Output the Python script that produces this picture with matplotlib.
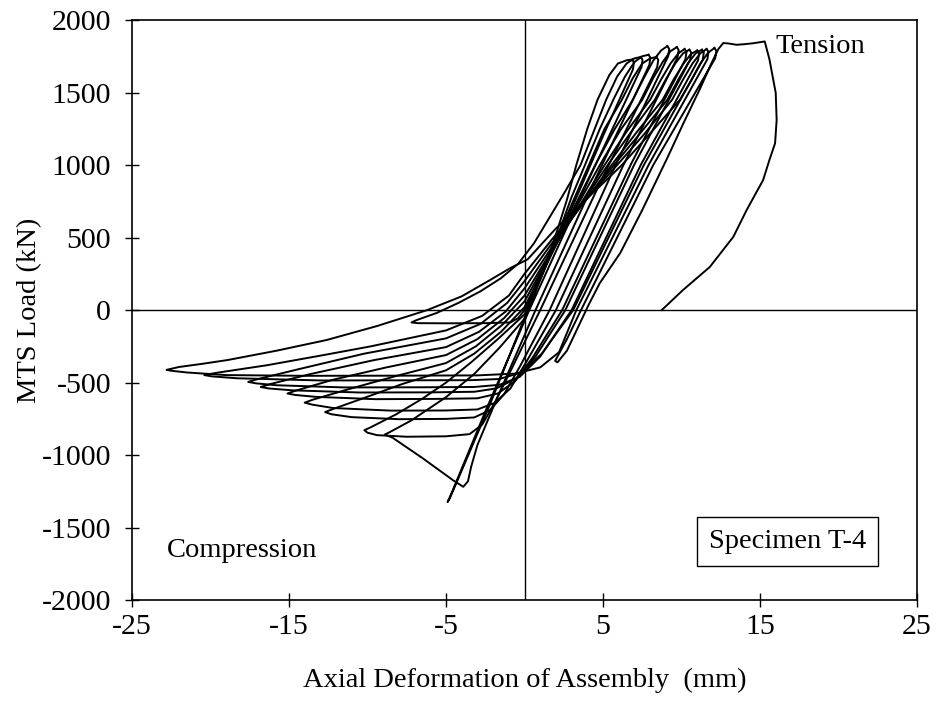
import matplotlib
matplotlib.use("Agg")
import matplotlib.pyplot as plt

# axial deformation (mm) / MTS load (kN), one list pair per loading cycle
c00_def = [0.0, 0.6, 1.3, 2.0, 2.7, 3.3, 4.0, 4.65, 5.4, 5.95, 6.5, 6.85]
c00_load = [0, 120, 300, 520, 760, 1000, 1250, 1450, 1620, 1700, 1722, 1727]

c01_def = [6.85, 6.97, 6.9, 5.0, 3.0, 1.0, 0.0, -0.4, -0.9, -2.5, -5.0, -6.8, -7.2,
           -6.9, -5.6, -4.2, -2.8, -1.5, -0.4, 0.6, 1.6, 2.6, 3.57, 4.4, 5.2, 5.9, 6.5, 7.0, 7.4]
c01_load = [1727, 1707, 1657, 1200, 700, 220, 0, -55, -85, -90, -91, -90, -85,
            -70, -20, 50, 130, 220, 320, 460, 640, 820, 1000, 1230, 1450, 1610, 1700, 1735, 1745]

c02_def = [7.4, 7.52, 7.45, 4.0, 0.3, -2.5, -4.6, -4.9, -4.75, -2.2, 0.2, 1.2, 2.2, 3.0,
           3.85, 4.8, 5.7, 6.4, 7.0, 7.5, 7.9]
c02_load = [1745, 1725, 1675, 880, 0, -700, -1250, -1323, -1295, -650, 0, 260, 540, 780,
            1000, 1250, 1460, 1610, 1710, 1750, 1760]

c03_def = [7.9, 8.02, 7.95, 4.5, 0.7, -1.8, -3.0, -3.4, -3.6, -3.9, -4.55, -6.5, -8.4, -8.9,
           -8.6, -7.2, -5.0, -3.2, -1.6, 0.0, 1.23, 2.26, 3.2, 4.1, 5.1, 6.2, 6.9, 7.5, 8.0, 8.4]
c03_load = [1760, 1740, 1690, 900, 0, -620, -930, -1080, -1180, -1218, -1173, -1020, -880, -858,
            -842, -760, -600, -440, -260, -60, 280, 544, 777, 1000, 1250, 1450, 1600, 1700, 1735, 1745]

c04_def = [8.4, 8.52, 8.45, 5.0, 1.0, -0.8, -1.9, -2.7, -3.5, -5.0, -7.5, -9.4, -10.0, -10.2,
           -9.8, -8.2, -6.5, -5.0, -3.4, -1.7, 0.0, 1.35, 2.48, 3.51, 4.5, 5.7, 6.9, 7.6, 8.2, 8.7, 9.1]
c04_load = [1745, 1725, 1675, 920, 0, -400, -640, -790, -855, -870, -873, -862, -845, -828,
            -808, -720, -610, -500, -360, -200, -30, 300, 557, 784, 1000, 1240, 1450, 1600, 1720, 1790, 1820]

c05_def = [9.1, 9.22, 9.15, 5.8, 1.6, -0.3, -1.3, -2.2, -3.2, -5.0, -8.0, -11.0, -12.3, -12.7,
           -12.2, -10.2, -7.8, -5.0, -3.2, -1.5, 0.0, 1.44, 2.64, 3.74, 4.8, 6.1, 7.5, 8.2, 8.8, 9.3, 9.7]
c05_load = [1820, 1800, 1750, 1000, 0, -390, -580, -690, -740, -750, -752, -738, -718, -703,
            -682, -605, -510, -415, -300, -150, 20, 334, 579, 794, 1000, 1240, 1450, 1600, 1710, 1785, 1813]

c06_def = [9.7, 9.82, 9.75, 6.3, 2.0, 0.1, -0.9, -1.9, -3.0, -5.0, -8.5, -12.2, -13.5, -14.0,
           -13.5, -11.2, -8.2, -5.0, -3.1, -1.4, 0.0, 1.53, 2.8, 3.98, 5.1, 6.5, 8.0, 8.7, 9.3, 9.8, 10.2]
c06_load = [1813, 1793, 1743, 1000, 0, -360, -540, -640, -685, -692, -693, -675, -652, -638,
            -618, -545, -455, -365, -250, -100, 60, 361, 596, 803, 1000, 1230, 1450, 1590, 1700, 1770, 1800]

c07_def = [10.2, 10.32, 10.25, 6.8, 2.4, 0.5, -0.6, -1.7, -3.0, -5.5, -9.5, -13.3, -14.6, -15.1,
           -14.6, -12.2, -8.8, -5.0, -3.0, -1.3, 0.0, 1.6, 2.9, 4.13, 5.3, 6.8, 8.3, 9.0, 9.6, 10.1, 10.5]
c07_load = [1800, 1780, 1730, 1010, 0, -330, -490, -575, -608, -612, -614, -598, -585, -575,
            -556, -480, -395, -310, -200, -55, 100, 388, 613, 811, 1000, 1230, 1450, 1590, 1700, 1770, 1795]

c08_def = [10.5, 10.62, 10.55, 7.0, 2.6, 0.7, -0.5, -1.8, -3.2, -6.0, -10.5, -14.8, -16.3, -16.8,
           -16.2, -13.6, -9.6, -5.0, -2.9, -1.2, 0.0, 1.67, 3.05, 4.33, 5.55, 7.1, 8.8, 9.5, 10.1, 10.6, 11.0]
c08_load = [1795, 1775, 1725, 1005, 0, -320, -470, -540, -563, -567, -568, -553, -540, -530,
            -510, -440, -345, -255, -150, -10, 150, 422, 635, 822, 1000, 1220, 1450, 1590, 1695, 1765, 1790]

c09_def = [11.0, 11.12, 11.05, 7.4, 3.0, 1.0, -0.3, -1.6, -3.2, -6.5, -11.5, -15.8, -17.1, -17.6,
           -17.0, -14.3, -10.2, -5.0, -2.8, -1.1, 0.0, 1.71, 3.13, 4.45, 5.7, 7.3, 9.1, 9.8, 10.4, 10.9, 11.3]
c09_load = [1790, 1770, 1720, 1000, 0, -320, -460, -515, -530, -532, -533, -518, -505, -495,
            -476, -405, -300, -195, -95, 50, 200, 456, 656, 832, 1000, 1210, 1450, 1590, 1700, 1770, 1795]

c10_def = [11.3, 11.42, 11.35, 7.6, 3.1, 1.1, -0.2, -1.6, -3.4, -7.5, -13.0, -18.3, -19.9, -20.4,
           -19.6, -16.4, -12.8, -9.8, -7.4, -5.0, -2.7, -1.0, 0.0, 1.77, 3.25, 4.6, 5.9, 7.6, 9.4,
           10.1, 10.7, 11.2, 11.6]
c10_load = [1795, 1775, 1725, 1000, 0, -300, -430, -475, -483, -484, -485, -470, -457, -448,
            -432, -380, -310, -250, -195, -140, -40, 100, 250, 490, 678, 843, 1000, 1210, 1450,
            1590, 1700, 1770, 1800]

c11_def = [11.6, 11.72, 11.65, 7.9, 3.3, 2.2, 1.0, -0.6, -3.0, -8.0, -14.0, -19.0, -21.5, -22.5, -22.8,
           -22.0, -20.5, -18.9, -15.8, -12.6, -9.4, -6.2, -4.0, -2.2, -0.9, 0.2, 1.96, 3.5, 4.9,
           6.2, 8.1, 9.9, 10.6, 11.2, 11.7, 12.1]
c11_load = [1800, 1780, 1730, 1000, 0, -290, -395, -438, -450, -452, -453, -448, -430, -418, -412,
            -392, -370, -344, -280, -206, -110, 0, 95, 207, 290, 350, 558, 720, 864,
            1000, 1230, 1450, 1580, 1700, 1775, 1807]

# last cycle: unload, short reversal, final tension plateau, then drop to zero load
c12_def = [12.1, 12.22, 12.15, 8.2, 3.6, 2.7, 2.2, 1.95, 2.1, 2.7, 3.4, 4.1, 4.8, 6.1, 7.5,
           9.1, 10.1, 11.2, 11.9, 12.35, 12.66, 13.0, 13.5, 14.0, 14.6, 15.3, 15.6, 16.0,
           16.06, 15.96, 15.6, 15.2, 14.15, 13.3, 11.8, 10.1, 8.74]
c12_load = [1807, 1787, 1737, 1000, 0, -200, -300, -350, -360, -280, -120, 40, 187, 394, 690,
            1050, 1283, 1531, 1700, 1800, 1841, 1838, 1829, 1833, 1840, 1852, 1729, 1498,
            1310, 1150, 1035, 897, 690, 505, 297, 139, 0]

cycles = [(c00_def, c00_load), (c01_def, c01_load), (c02_def, c02_load),
          (c03_def, c03_load), (c04_def, c04_load), (c05_def, c05_load),
          (c06_def, c06_load), (c07_def, c07_load), (c08_def, c08_load),
          (c09_def, c09_load), (c10_def, c10_load), (c11_def, c11_load),
          (c12_def, c12_load)]

x_ticks = [-25, -15, -5, 5, 15, 25]
y_ticks = [-2000, -1500, -1000, -500, 0, 500, 1000, 1500, 2000]

plt.rcParams['font.family'] = ['Liberation Serif', 'DejaVu Serif']
plt.rcParams['axes.unicode_minus'] = False

fig = plt.figure(figsize=(9.41, 7.11), dpi=100)
ax = fig.add_axes([0.1403, 0.1558, 0.8342, 0.8161])

ax.axhline(0, color='black', lw=1.0, zorder=1)
ax.axvline(0, color='black', lw=1.0, zorder=1)

for d, p in cycles:
    ax.plot(d, p, color='black', lw=1.4, solid_joinstyle='round', zorder=2)

ax.set_xlim(-25, 25)
ax.set_ylim(-2000, 2000)
ax.set_xticks(x_ticks)
ax.set_yticks(y_ticks)
ax.tick_params(direction='inout', length=10, width=1, labelsize=21.5)
ax.tick_params(axis='x', pad=5)
ax.tick_params(axis='y', pad=10)
for s in ax.spines.values():
    s.set_linewidth(1.2)

ax.set_xlabel('Axial Deformation of Assembly  (mm)', fontsize=20.5, labelpad=20)
ax.set_ylabel('MTS Load (kN)', fontsize=20.5, labelpad=0)

ax.text(16.0, 1815, 'Tension', fontsize=20.5, ha='left', va='center')
ax.text(-22.8, -1655, 'Compression', fontsize=20.5, ha='left', va='center')
ax.text(16.75, -1598, 'Specimen T-4', fontsize=20.5, ha='center', va='center',
        bbox=dict(boxstyle='square,pad=0.42', facecolor='white', edgecolor='black', lw=1))

fig.savefig('out.png', dpi=100)
